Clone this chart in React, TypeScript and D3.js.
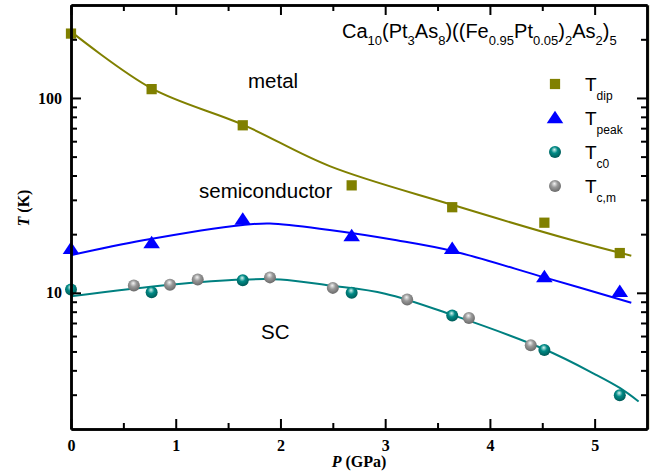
import React, { useEffect, useRef } from 'react';
import * as d3 from 'd3';

// measured points (P in GPa, T in K)
const dipP = [0, 0.77, 1.64, 2.68, 3.64, 4.52, 5.24];
const dipT = [214, 111, 72.4, 35.6, 27.5, 22.9, 16.0];

const peakP = [0, 0.77, 1.64, 2.68, 3.64, 4.52, 5.24];
const peakT = [16.6, 17.8, 23.5, 19.3, 16.6, 11.9, 10.0];

const tc0P = [0, 0.77, 1.64, 2.68, 3.64, 4.52, 5.24];
const tc0T = [10.4, 10.07, 11.6, 10.0, 7.64, 5.09, 2.98];

const tcmP = [0.6, 0.945, 1.21, 1.9, 2.5, 3.21, 3.8, 4.39];
const tcmT = [10.9, 11.0, 11.7, 12.0, 10.6, 9.23, 7.43, 5.38];

// guide-to-the-eye curves
const dipFitP = [0, 0.77, 1.64, 2.47, 3.64, 4.79, 5.35];
const dipFitT = [219, 112, 73, 44.7, 28.3, 18.6, 15.5];

const peakFitP = [0, 0.69, 1.64, 1.9, 2.47, 3.11, 3.64, 4.52, 5.35];
const peakFitT = [15.6, 18.6, 22.3, 22.7, 21.0, 18.6, 16.4, 12.0, 8.9];

const tcFitP = [0, 0.95, 1.64, 2.0, 2.47, 3.0, 3.64, 4.52, 5.0, 5.24, 5.42];
const tcFitT = [9.6, 11.0, 11.7, 11.7, 10.9, 9.9, 7.7, 5.13, 3.83, 3.25, 2.77];

const xMajor = [0, 1, 2, 3, 4, 5];
const xMinor = [0.5, 1.5, 2.5, 3.5, 4.5];
const yMajor = [10, 100];
const yMinor = [3, 4, 5, 6, 7, 8, 9, 20, 30, 40, 50, 60, 70, 80, 90, 200];

const legendItems = [
	{ key: 'dip', sub: 'dip' },
	{ key: 'peak', sub: 'peak' },
	{ key: 'c0', sub: 'c0' },
	{ key: 'cm', sub: 'c,m' }
];

const titleParts: [string, boolean][] = [
	['Ca', false], ['10', true], ['(Pt', false], ['3', true], ['As', false], ['8', true],
	[')((Fe', false], ['0.95', true], ['Pt', false], ['0.05', true], [')', false], ['2', true],
	['As', false], ['2', true], [')', false], ['5', true]
];

const OLIVE = '#808000';
const BLUE = '#0000ff';
const TEAL = '#008080';

export default function App() {
	const ref = useRef<SVGSVGElement>(null);

	useEffect(() => {
		const width = 660,
			height = 474;
		const left = 71,
			right = 647,
			top = 5,
			bottom = 429;

		const svg = d3.select(ref.current);
		svg.selectAll('*').remove();
		svg.attr('width', width).attr('height', height);

		const defs = svg.append('defs');
		const ball = (id: string, c0: string, c1: string, c2: string) => {
			const g = defs
				.append('radialGradient')
				.attr('id', id)
				.attr('cx', '0.45')
				.attr('cy', '0.4')
				.attr('r', '0.6')
				.attr('fx', '0.45')
				.attr('fy', '0.3');
			g.append('stop').attr('offset', '0%').attr('stop-color', c0);
			g.append('stop').attr('offset', '45%').attr('stop-color', c1);
			g.append('stop').attr('offset', '100%').attr('stop-color', c2);
		};
		ball('tealBall', '#d8f4f0', '#008a86', '#005a57');
		ball('greyBall', '#f4f4f4', '#9a9a9a', '#6a6a6a');

		const x = d3.scaleLinear().domain([0, 5.5]).range([left, right]);
		const y = d3.scaleLog().domain([2, 300]).range([bottom, top]);

		// faint frame line at right edge (scan artefact in the original)
		svg
			.append('line')
			.attr('x1', right + 2)
			.attr('x2', right + 2)
			.attr('y1', top)
			.attr('y2', bottom)
			.attr('stroke', '#d0d0b0')
			.attr('stroke-width', 1);

		// fit curves
		const fit = (P: number[], T: number[], color: string) => {
			const line = d3
				.line<number>()
				.x((d, i) => x(P[i]))
				.y(d => y(d))
				.curve(d3.curveCatmullRom.alpha(0.5));
			svg
				.append('path')
				.datum(T)
				.attr('fill', 'none')
				.attr('stroke', color)
				.attr('stroke-width', 2)
				.attr('d', line);
		};
		fit(dipFitP, dipFitT, OLIVE);
		fit(peakFitP, peakFitT, BLUE);
		fit(tcFitP, tcFitT, TEAL);

		// markers
		const sq = d3.symbol().type(d3.symbolSquare).size(105);
		const tri = d3.symbol().type(d3.symbolTriangle).size(90);

		svg
			.append('g')
			.selectAll('path')
			.data(dipT)
			.join('path')
			.attr('transform', (d, i) => `translate(${x(dipP[i])},${y(d)})`)
			.attr('d', sq)
			.attr('fill', OLIVE);

		svg
			.append('g')
			.selectAll('path')
			.data(peakT)
			.join('path')
			.attr('transform', (d, i) => `translate(${x(peakP[i])},${y(d)}) scale(1.15,1)`)
			.attr('d', tri)
			.attr('fill', BLUE);

		svg
			.append('g')
			.selectAll('circle')
			.data(tcmT)
			.join('circle')
			.attr('cx', (d, i) => x(tcmP[i]))
			.attr('cy', d => y(d))
			.attr('r', 6)
			.attr('fill', 'url(#greyBall)');

		svg
			.append('g')
			.selectAll('circle')
			.data(tc0T)
			.join('circle')
			.attr('cx', (d, i) => x(tc0P[i]))
			.attr('cy', d => y(d))
			.attr('r', 6)
			.attr('fill', 'url(#tealBall)');

		// axes
		const tickFont = (g: any) =>
			g
				.selectAll('text')
				.attr('font-family', '"Liberation Serif", serif')
				.attr('font-weight', 'bold')
				.attr('font-size', 16)
				.attr('fill', '#000');
		const styleAxis = (g: any) => {
			g.select('.domain').attr('stroke', '#000').attr('stroke-width', 2.5);
			g.selectAll('.tick line').attr('stroke', '#000').attr('stroke-width', 2);
		};

		svg
			.append('g')
			.attr('transform', `translate(0,${bottom})`)
			.call(d3.axisBottom(x).tickValues(xMajor).tickSize(-10).tickSizeOuter(0).tickPadding(11).tickFormat(d3.format('d')))
			.call(styleAxis)
			.call(tickFont);
		svg
			.append('g')
			.attr('transform', `translate(0,${bottom})`)
			.call(d3.axisBottom(x).tickValues(xMinor).tickSize(-6).tickSizeOuter(0).tickFormat(() => ''))
			.call(styleAxis);
		svg
			.append('g')
			.attr('transform', `translate(0,${top})`)
			.call(d3.axisTop(x).tickValues(xMajor).tickSize(-10).tickSizeOuter(0).tickFormat(() => ''))
			.call(styleAxis);
		svg
			.append('g')
			.attr('transform', `translate(0,${top})`)
			.call(d3.axisTop(x).tickValues(xMinor).tickSize(-6).tickSizeOuter(0).tickFormat(() => ''))
			.call(styleAxis);

		svg
			.append('g')
			.attr('transform', `translate(${left},0)`)
			.call(d3.axisLeft(y).tickValues(yMajor).tickSize(-10).tickSizeOuter(0).tickPadding(9).tickFormat(d3.format('d')))
			.call(styleAxis)
			.call(tickFont);
		svg
			.append('g')
			.attr('transform', `translate(${left},0)`)
			.call(d3.axisLeft(y).tickValues(yMinor).tickSize(-6).tickSizeOuter(0).tickFormat(() => ''))
			.call(styleAxis);
		svg
			.append('g')
			.attr('transform', `translate(${right},0)`)
			.call(d3.axisRight(y).tickValues(yMajor).tickSize(-10).tickSizeOuter(0).tickFormat(() => ''))
			.call(styleAxis);
		svg
			.append('g')
			.attr('transform', `translate(${right},0)`)
			.call(d3.axisRight(y).tickValues(yMinor).tickSize(-6).tickSizeOuter(0).tickFormat(() => ''))
			.call(styleAxis);

		// axis titles
		const xt = svg
			.append('text')
			.attr('x', (left + right) / 2)
			.attr('y', 467)
			.attr('text-anchor', 'middle')
			.attr('font-family', '"Liberation Serif", serif')
			.attr('font-weight', 'bold')
			.attr('font-size', 16);
		xt.append('tspan').attr('font-style', 'italic').text('P');
		xt.append('tspan').text(' (GPa)');

		const yt = svg
			.append('text')
			.attr('transform', `translate(29,208) rotate(-90)`)
			.attr('text-anchor', 'middle')
			.attr('font-family', '"Liberation Serif", serif')
			.attr('font-weight', 'bold')
			.attr('font-size', 16);
		yt.append('tspan').attr('font-style', 'italic').text('T');
		yt.append('tspan').text(' (K)');

		// compound title with subscripts
		const sans = '"Liberation Sans", Arial, sans-serif';
		const title = svg
			.append('text')
			.attr('x', 342)
			.attr('y', 38)
			.attr('font-family', sans)
			.attr('font-size', 20)
			.attr('fill', '#000');
		let prevSub = false;
		titleParts.forEach(([t, sub]) => {
			title
				.append('tspan')
				.attr('font-size', sub ? 13 : 20)
				.attr('dy', (sub ? 7 : 0) - (prevSub ? 7 : 0))
				.text(t);
			prevSub = sub;
		});

		// region labels
		const region = (t: string, px: number, py: number) =>
			svg
				.append('text')
				.attr('x', px)
				.attr('y', py)
				.attr('font-family', sans)
				.attr('font-size', 20.5)
				.attr('fill', '#000')
				.text(t);
		region('metal', 248, 88);
		region('semiconductor', 199, 198);
		region('SC', 261, 339);

		// legend
		const lg = svg.append('g').attr('transform', 'translate(555,84)');
		legendItems.forEach((it, i) => {
			const row = lg.append('g').attr('transform', `translate(0,${i * 34})`);
			if (it.key === 'dip') row.append('path').attr('d', sq).attr('fill', OLIVE);
			if (it.key === 'peak')
				row.append('path').attr('d', tri).attr('fill', BLUE).attr('transform', 'translate(0,1) scale(1.15,1)');
			if (it.key === 'c0') row.append('circle').attr('r', 6).attr('fill', 'url(#tealBall)');
			if (it.key === 'cm') row.append('circle').attr('r', 6).attr('fill', 'url(#greyBall)');
			const t = row
				.append('text')
				.attr('x', 30)
				.attr('y', 7)
				.attr('font-family', sans)
				.attr('font-size', 19)
				.attr('fill', '#000');
			t.append('tspan').text('T');
			t.append('tspan').attr('font-size', 12).attr('dy', 9).text(it.sub);
		});
	}, []);

	return <svg ref={ref} style={{ position: 'absolute', left: 0, top: 0 }} />;
}
